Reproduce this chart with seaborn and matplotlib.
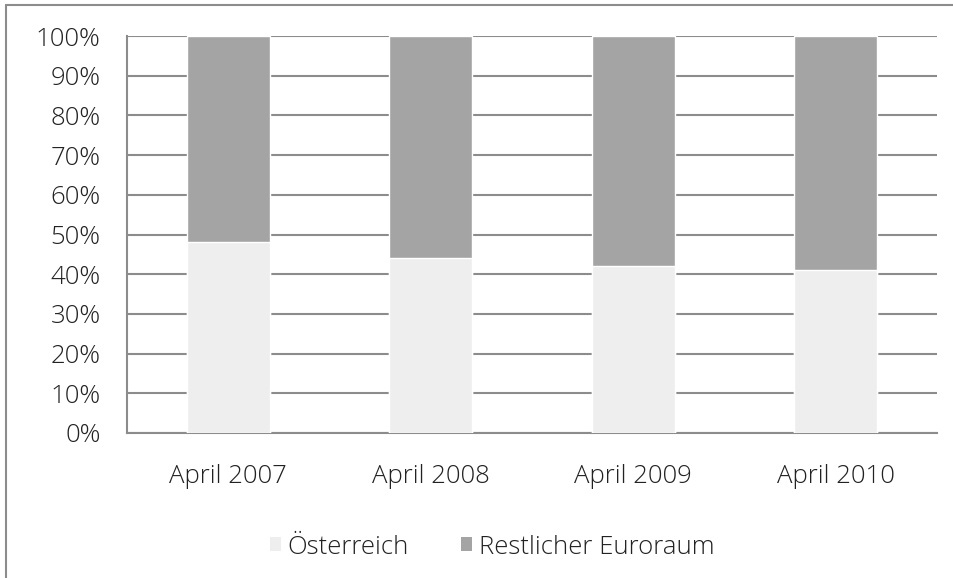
import matplotlib.pyplot as plt
import matplotlib.patches as mpatches
import pandas as pd
import seaborn as sns

# Data
categories = ["April 2007", "April 2008", "April 2009", "April 2010"]
oesterreich = [48, 44, 42, 41]
restlicher = [52, 56, 58, 59]

df = pd.DataFrame({"Zeit": categories, "Österreich": oesterreich, "Restlicher Euroraum": restlicher})
df["Gesamt"] = df["Österreich"] + df["Restlicher Euroraum"]

sns.set_style("white")
plt.rcParams["font.family"] = ["Open Sans", "DejaVu Sans"]
plt.rcParams["font.weight"] = "light"

col_at = "#eeeeee"
col_rest = "#a4a4a4"
fs = 18.5

fig = plt.figure(figsize=(9.54, 5.78), dpi=100)
ax = fig.add_axes([127 / 954, (578 - 433) / 578, (937 - 127) / 954, (433 - 36) / 578])

# stacked bars: total first, Österreich on top of it
sns.barplot(data=df, x="Zeit", y="Gesamt", color=col_rest, width=0.41,
            saturation=1, ax=ax, zorder=3)
sns.barplot(data=df, x="Zeit", y="Österreich", color=col_at, width=0.41,
            saturation=1, ax=ax, zorder=3)

# Axes styling
ax.set_ylim(0, 100)
ax.set_xlim(-0.5, 3.5)
ax.set_yticks(range(0, 101, 10))
ax.set_yticklabels([f"{v}%" for v in range(0, 101, 10)], fontsize=fs, color="#222222")
ax.yaxis.grid(True, color="#8c8c8c", linewidth=1.5, zorder=0)
ax.set_axisbelow(True)
ax.set_xlabel("")
ax.set_ylabel("")
ax.tick_params(axis="x", which="major", length=0, labelsize=fs, pad=22, labelcolor="#222222")
ax.set_xticks([-0.5, 0.5, 1.5, 2.5, 3.5], minor=True)
ax.tick_params(axis="x", which="minor", length=7, width=1.5, color="#8c8c8c", direction="out")
ax.tick_params(axis="y", length=7, width=1.5, color="#8c8c8c", direction="out", pad=12)
for s in ["top", "right"]:
    ax.spines[s].set_visible(False)
for s in ["left", "bottom"]:
    ax.spines[s].set_color("#8c8c8c")
    ax.spines[s].set_linewidth(1.5)

# Legend
handles = [mpatches.Patch(facecolor=col_at, edgecolor="none", label="Österreich"),
           mpatches.Patch(facecolor=col_rest, edgecolor="none", label="Restlicher Euroraum")]
leg = fig.legend(handles=handles, loc="center", bbox_to_anchor=(492 / 954, 1 - 547 / 578),
                 ncol=2, frameon=False, fontsize=fs, handlelength=0.45, handleheight=0.45,
                 handletextpad=0.25, columnspacing=2.0)
for t in leg.get_texts():
    t.set_color("#222222")

# outer chart frame (partially cropped)
fig.add_artist(plt.Line2D([6 / 954, 6 / 954], [0, 1 - 5 / 578], color="#8c8c8c", linewidth=1.5))
fig.add_artist(plt.Line2D([6 / 954, 1], [1 - 5 / 578, 1 - 5 / 578], color="#8c8c8c", linewidth=1.5))

plt.savefig("out.png", dpi=100)
plt.close()
